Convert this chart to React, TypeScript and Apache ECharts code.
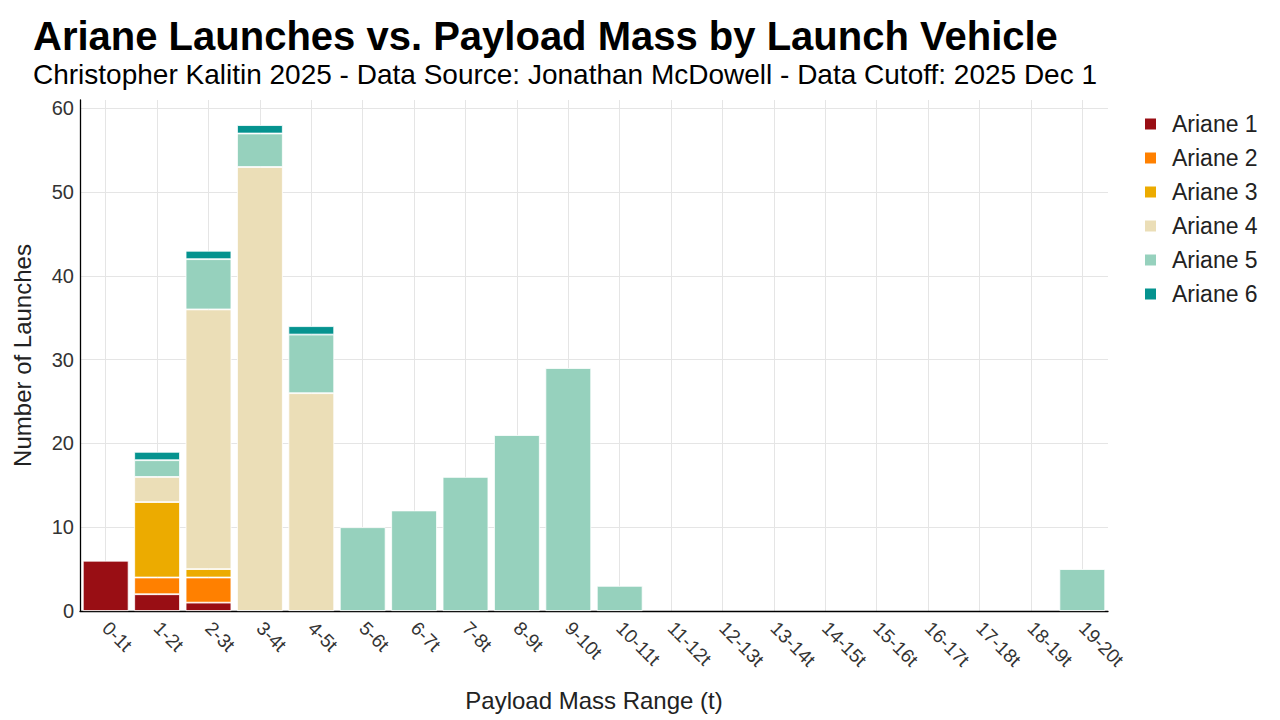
import React, { useEffect, useRef } from "react";
import * as echarts from "echarts";

const categories = [
  "0-1t", "1-2t", "2-3t", "3-4t", "4-5t", "5-6t", "6-7t", "7-8t", "8-9t", "9-10t",
  "10-11t", "11-12t", "12-13t", "13-14t", "14-15t", "15-16t", "16-17t", "17-18t", "18-19t", "19-20t",
];

const ariane1 = [6, 2, 1, 0, 0, 0, 0, 0, 0, 0, 0, 0, 0, 0, 0, 0, 0, 0, 0, 0];
const ariane2 = [0, 2, 3, 0, 0, 0, 0, 0, 0, 0, 0, 0, 0, 0, 0, 0, 0, 0, 0, 0];
const ariane3 = [0, 9, 1, 0, 0, 0, 0, 0, 0, 0, 0, 0, 0, 0, 0, 0, 0, 0, 0, 0];
const ariane4 = [0, 3, 31, 53, 26, 0, 0, 0, 0, 0, 0, 0, 0, 0, 0, 0, 0, 0, 0, 0];
const ariane5 = [0, 2, 6, 4, 7, 10, 12, 16, 21, 29, 3, 0, 0, 0, 0, 0, 0, 0, 0, 5];
const ariane6 = [0, 1, 1, 1, 1, 0, 0, 0, 0, 0, 0, 0, 0, 0, 0, 0, 0, 0, 0, 0];

const seriesNames = ["Ariane 1", "Ariane 2", "Ariane 3", "Ariane 4", "Ariane 5", "Ariane 6"];
const seriesData = [ariane1, ariane2, ariane3, ariane4, ariane5, ariane6];
const seriesColors = ["#990e14", "#ff8000", "#ecab00", "#ebdeb7", "#96d1bd", "#05938f"];

const FONT = "'Liberation Sans', Arial, sans-serif";

export default function App() {
  const ref = useRef<HTMLDivElement>(null);

  useEffect(() => {
    if (!ref.current) return;
    const chart = echarts.init(ref.current, null, { renderer: "svg" });
    chart.setOption({
      animation: false,
      backgroundColor: "#ffffff",
      textStyle: { fontFamily: FONT },
      title: [
        {
          text: "Ariane Launches vs. Payload Mass by Launch Vehicle",
          left: 33,
          top: 16,
          padding: 0,
          textStyle: { fontFamily: FONT, fontSize: 40, fontWeight: "bold", color: "#000" },
        },
        {
          text: "Christopher Kalitin 2025 - Data Source: Jonathan McDowell - Data Cutoff: 2025 Dec 1",
          left: 33,
          top: 60,
          padding: 0,
          textStyle: { fontFamily: FONT, fontSize: 28, fontWeight: "normal", color: "#000" },
        },
      ],
      legend: {
        orient: "vertical",
        left: 1143,
        top: 112,
        padding: 0,
        itemWidth: 13,
        itemHeight: 13,
        itemGap: 10,
        icon: "rect",
        data: seriesNames,
        textStyle: {
          fontFamily: FONT,
          fontSize: 23,
          lineHeight: 24,
          color: "#222",
          padding: [0, 0, 0, 10],
        },
      },
      grid: { left: 80, right: 172, top: 100, bottom: 109, containLabel: false },
      xAxis: {
        type: "category",
        data: categories,
        name: "Payload Mass Range (t)",
        nameLocation: "middle",
        nameGap: 77,
        nameTextStyle: { fontFamily: FONT, fontSize: 24, color: "#222" },
        axisLine: { show: true, lineStyle: { color: "#000", width: 1.3 } },
        axisTick: { show: false },
        axisLabel: {
          rotate: -45,
          interval: 0,
          margin: 14,
          fontFamily: FONT,
          fontSize: 19,
          color: "#333",
        },
        splitLine: { show: true, alignWithLabel: true, lineStyle: { color: "#e5e5e5", width: 1 } },
      },
      yAxis: {
        type: "value",
        min: 0,
        max: 61,
        interval: 10,
        name: "Number of Launches",
        nameLocation: "middle",
        nameGap: 46,
        nameTextStyle: { fontFamily: FONT, fontSize: 24, color: "#222" },
        axisLine: { show: true, lineStyle: { color: "#000", width: 1.3 } },
        axisTick: { show: false },
        axisLabel: {
          fontFamily: FONT,
          fontSize: 20,
          color: "#333",
          margin: 6,
          showMaxLabel: false,
          formatter: (v: number) => (v % 10 === 0 ? String(v) : ""),
        },
        splitLine: { show: true, showMaxLine: false, lineStyle: { color: "#e5e5e5", width: 1 } },
      },
      series: seriesNames.map((name, i) => ({
        name,
        type: "bar",
        stack: "total",
        data: seriesData[i].map((v) => (v === 0 ? null : v)),
        barCategoryGap: "11%",
        itemStyle: { color: seriesColors[i], borderColor: "#ffffff", borderWidth: 0.8 },
        emphasis: { disabled: true },
        z: 5,
      })),
    });
    return () => chart.dispose();
  }, []);

  return (
    <div
      ref={ref}
      style={{ position: "fixed", left: 0, top: 0, width: 1280, height: 720 }}
    />
  );
}
